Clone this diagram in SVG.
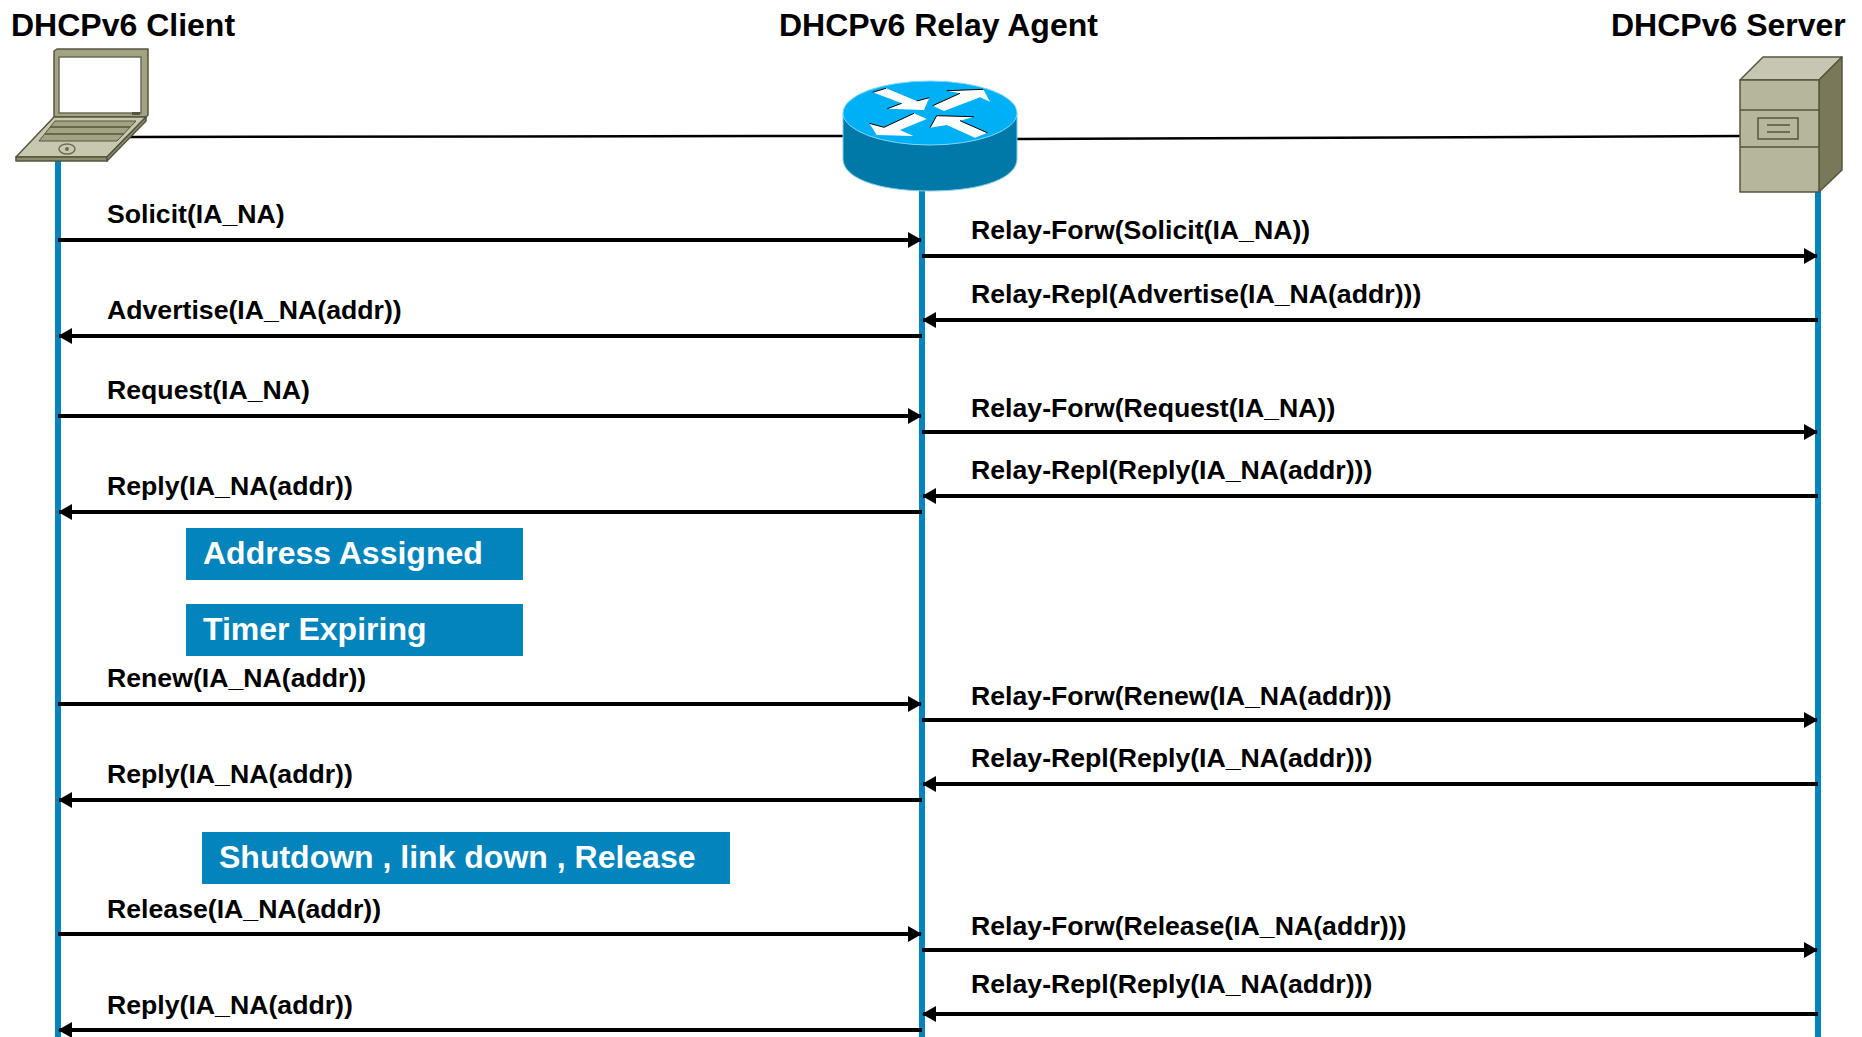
<svg xmlns="http://www.w3.org/2000/svg" width="1862" height="1037" viewBox="0 0 1862 1037">
<style>
text{font-family:"Liberation Sans",Arial,sans-serif;font-weight:700}
.h{font-size:32px;fill:#000}
.m{font-size:26.67px;fill:#000}
.b{font-size:32px;fill:#fff}
.life{stroke:#0484bc;stroke-width:6;fill:none}
.msg{stroke:#000;stroke-width:4;fill:none}
.ln{stroke:#000;stroke-width:2.5;fill:none}
.box{fill:#0484bc}
.t{stroke:#55553f;stroke-width:1.5;stroke-linejoin:round}
</style>
<defs>
<marker id="a" viewBox="0 0 14 16" refX="13" refY="8" markerUnits="userSpaceOnUse" markerWidth="14" markerHeight="16" orient="auto"><path d="M0 0L14 8L0 16Z" fill="#000"/></marker>
</defs>
<g id="lifelines">
<path class="life" d="M58 160V1037"/>
<path class="life" d="M922 190V1037"/>
<path class="life" d="M1818 190V1037"/>
</g>
<g id="connectors">
<path class="ln" d="M128 137L845 136"/>
<path class="ln" d="M1017 139L1742 136"/>
<path class="msg" marker-end="url(#a)" d="M58 240H921"/>
<path class="msg" marker-end="url(#a)" d="M922 336H59"/>
<path class="msg" marker-end="url(#a)" d="M58 416H921"/>
<path class="msg" marker-end="url(#a)" d="M922 512H59"/>
<path class="msg" marker-end="url(#a)" d="M58 704H921"/>
<path class="msg" marker-end="url(#a)" d="M922 800H59"/>
<path class="msg" marker-end="url(#a)" d="M58 934H921"/>
<path class="msg" marker-end="url(#a)" d="M922 1030H59"/>
<path class="msg" marker-end="url(#a)" d="M922 256H1817"/>
<path class="msg" marker-end="url(#a)" d="M1818 320H923"/>
<path class="msg" marker-end="url(#a)" d="M922 432H1817"/>
<path class="msg" marker-end="url(#a)" d="M1818 496H923"/>
<path class="msg" marker-end="url(#a)" d="M922 720H1817"/>
<path class="msg" marker-end="url(#a)" d="M1818 784H923"/>
<path class="msg" marker-end="url(#a)" d="M922 950H1817"/>
<path class="msg" marker-end="url(#a)" d="M1818 1014H923"/>
</g>
<g id="client">
<text class="h" x="11" y="36">DHCPv6 Client</text>
<path class="t" fill="#a3a384" d="M54 51L57 49H148V115L146 117H54Z"/>
<rect x="59" y="57" width="82" height="56" fill="#fff" stroke="#6b6b52" stroke-width="1.5"/>
<path fill="#55553f" d="M132 112H140V115H132Z"/>
<path class="t" fill="#c8c8b0" d="M54 117H146L107 157H16Z"/>
<path fill="#a3a384" stroke="#55553f" d="M55 121H136L117 141H39Z"/>
<path stroke="#55553f" stroke-width="1.5" d="M50 127H130M45 134H124" fill="none"/>
<ellipse cx="67" cy="149" rx="8" ry="5" fill="none" stroke="#6b6b52" stroke-width="1.5"/>
<circle cx="67" cy="149" r="2" fill="#6b6b52"/>
<path class="t" fill="#8d8d6e" d="M16 157H107V161H16Z"/>
<path class="t" fill="#8d8d6e" d="M107 157L146 117V121L107 161Z"/>
</g>
<g id="relay">
<text class="h" x="779" y="36">DHCPv6 Relay Agent</text>
<path fill="#0079a8" stroke="#7fcde8" stroke-width="1" d="M843 113V159C843 177 875 191 930 191C985 191 1017 177 1017 159V113Z"/>
<ellipse cx="930" cy="113" rx="87" ry="32" fill="#00b0f6" stroke="#7fd8f8" stroke-width="1"/>
<path fill="#fff" d="M872.7 92.3L886 88.3L916.7 101L929.3 97.7L924 110L887.3 108.7L901.7 103.3Z"/>
<path fill="#fff" d="M932.7 105.7L960 93.3L946.7 90.7L983.3 89.3L990 101.7L980 97.3L944 111Z"/>
<path fill="#fff" d="M926.7 119L914 113.3L884 127.3L869.3 123.3L876.7 135L913.3 136L900 130Z"/>
<path fill="#fff" d="M930 127.7L936.7 115.7L974 116.7L960 120.7L987.3 132.7L975 137.7L946.7 125Z"/>
<path fill="none" stroke="#000" stroke-width="1" d="M872.7 92.3L886 88.3M916.7 101L929.3 97.7M887.3 108.7L901.7 103.3M932.7 105.7L960 93.3M946.7 90.7L983.3 89.3M869.3 123.3L884 127.3L914 113.3M930 127.7L936.7 115.7L974 116.7M960 120.7L987.3 132.7"/>
</g>
<g id="server">
<text class="h" x="1611" y="36">DHCPv6 Server</text>
<path class="t" fill="#c6c6b2" d="M1740 80L1763 57H1842L1819 80Z"/>
<path class="t" fill="#79795a" d="M1819 80L1842 57V170L1819 192Z"/>
<rect class="t" x="1740" y="80" width="79" height="112" fill="#b6b69a"/>
<path class="t" fill="none" d="M1740 110H1819M1740 147H1819"/>
<rect x="1758" y="118" width="40" height="21" fill="#b6b69a" stroke="#55553f" stroke-width="1.5"/>
<path fill="none" stroke="#55553f" stroke-width="1.5" d="M1767 125H1790M1767 132H1790"/>
</g>
<g id="client-labels">
<text class="m" x="107" y="223">Solicit(IA_NA)</text>
<text class="m" x="107" y="319">Advertise(IA_NA(addr))</text>
<text class="m" x="107" y="399">Request(IA_NA)</text>
<text class="m" x="107" y="495">Reply(IA_NA(addr))</text>
<text class="m" x="107" y="687">Renew(IA_NA(addr))</text>
<text class="m" x="107" y="783">Reply(IA_NA(addr))</text>
<text class="m" x="107" y="918">Release(IA_NA(addr))</text>
<text class="m" x="107" y="1014">Reply(IA_NA(addr))</text>
</g>
<g id="relay-labels">
<text class="m" x="971" y="239">Relay-Forw(Solicit(IA_NA))</text>
<text class="m" x="971" y="303">Relay-Repl(Advertise(IA_NA(addr)))</text>
<text class="m" x="971" y="417">Relay-Forw(Request(IA_NA))</text>
<text class="m" x="971" y="479">Relay-Repl(Reply(IA_NA(addr)))</text>
<text class="m" x="971" y="705">Relay-Forw(Renew(IA_NA(addr)))</text>
<text class="m" x="971" y="767">Relay-Repl(Reply(IA_NA(addr)))</text>
<text class="m" x="971" y="935">Relay-Forw(Release(IA_NA(addr)))</text>
<text class="m" x="971" y="993">Relay-Repl(Reply(IA_NA(addr)))</text>
</g>
<g id="state-assigned"><rect class="box" x="186" y="528" width="337" height="52"/><text class="b" x="203" y="564">Address Assigned</text></g>
<g id="state-expiring"><rect class="box" x="186" y="604" width="337" height="52"/><text class="b" x="203" y="640">Timer Expiring</text></g>
<g id="state-shutdown"><rect class="box" x="202" y="832" width="528" height="52"/><text class="b" x="219" y="868">Shutdown , link down , Release</text></g>
</svg>
